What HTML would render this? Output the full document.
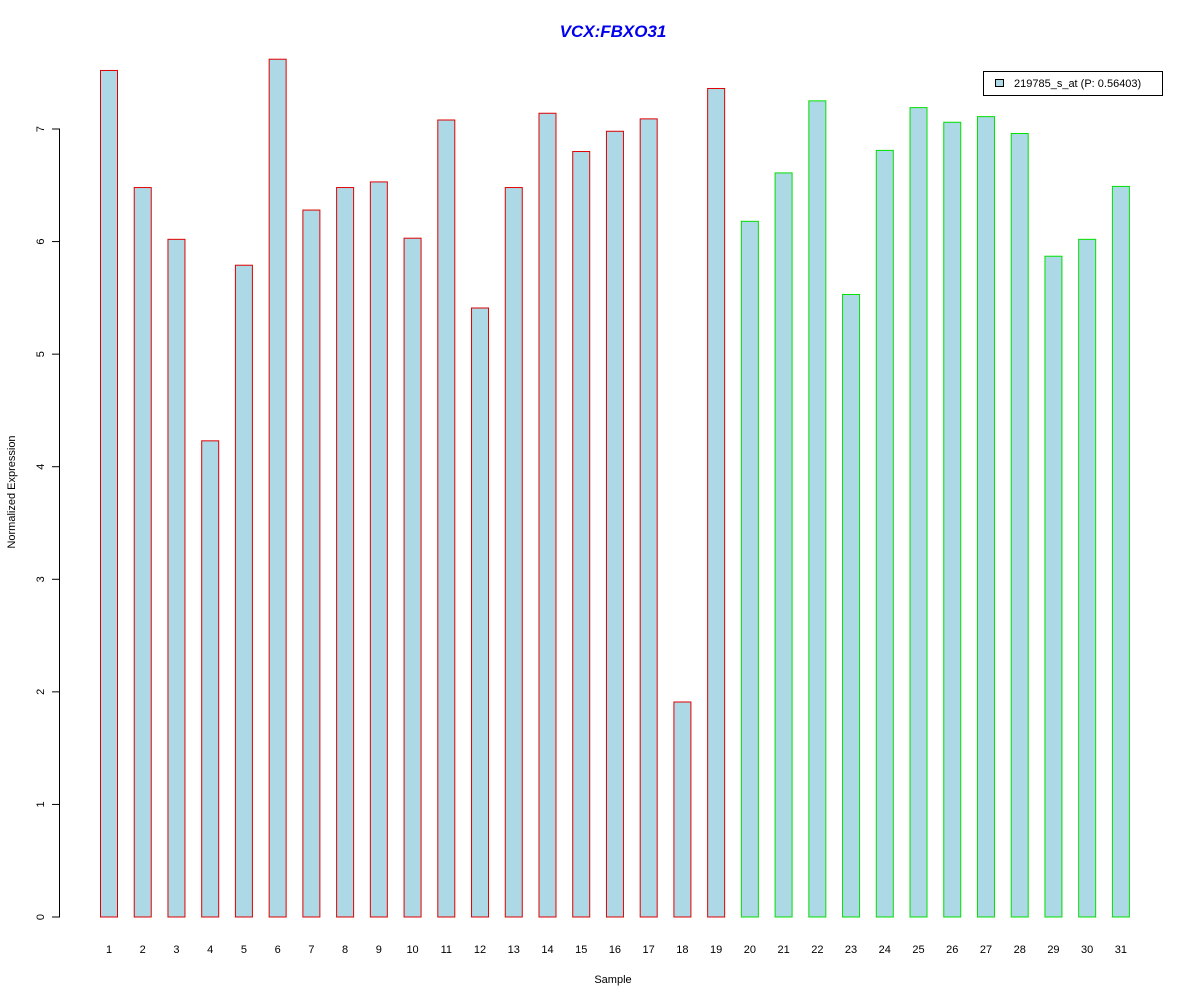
<!DOCTYPE html>
<html><head><meta charset="utf-8"><style>body{margin:0;background:#fff}svg{display:block}text{font-family:"Liberation Sans",Arial,sans-serif}</style></head>
<body>
<svg id="s" width="1200" height="1000" xmlns="http://www.w3.org/2000/svg">
<rect width="1200" height="1000" fill="#fff"/>
<text x="613" y="37" font-size="17" font-weight="bold" font-style="italic" fill="#0000ee" text-anchor="middle">VCX:FBXO31</text>
<g id="bars"></g>
<line x1="59.5" y1="129" x2="59.5" y2="917" stroke="#000"/>
<g id="yt" font-size="11" fill="#000"></g>
<g id="xt" font-size="11" fill="#000" text-anchor="middle"></g>
<text x="613" y="983" font-size="11" text-anchor="middle">Sample</text>
<text transform="translate(15,492) rotate(-90)" font-size="11" text-anchor="middle">Normalized Expression</text>
<rect x="983.5" y="71.5" width="179" height="24" fill="#fff" stroke="#000"/>
<rect x="995.5" y="79.5" width="8" height="7" fill="#add8e6" stroke="#000"/>
<text x="1014" y="87" font-size="11">219785_s_at (P: 0.56403)</text>
</svg>
<script>
var v=[7.52,6.48,6.02,4.23,5.79,7.62,6.28,6.48,6.53,6.03,7.08,5.41,6.48,7.14,6.80,6.98,7.09,1.91,7.36,6.18,6.61,7.25,5.53,6.81,7.19,7.06,7.11,6.96,5.87,6.02,6.49];
var ns="http://www.w3.org/2000/svg",s=112.57,b=document.getElementById('bars'),xt=document.getElementById('xt'),yt=document.getElementById('yt');
v.forEach(function(d,i){var x=100.5+i*33.73,h=d*s,r=document.createElementNS(ns,'rect');
r.setAttribute('x',x);r.setAttribute('y',917-h);r.setAttribute('width',17);r.setAttribute('height',h);
r.setAttribute('fill','#add8e6');r.setAttribute('stroke',i<19?'#e00000':'#00e000');b.appendChild(r);
var t=document.createElementNS(ns,'text');t.setAttribute('x',x+8.5);t.setAttribute('y',953);t.textContent=i+1;xt.appendChild(t);});
for(var k=0;k<=7;k++){var y=917-k*s;var l=document.createElementNS(ns,'line');l.setAttribute('x1',52);l.setAttribute('x2',60);l.setAttribute('y1',y);l.setAttribute('y2',y);l.setAttribute('stroke','#000');yt.appendChild(l);
var t=document.createElementNS(ns,'text');t.setAttribute('transform','translate(44,'+y+') rotate(-90)');t.setAttribute('text-anchor','middle');t.textContent=k;yt.appendChild(t);}
</script>
</body></html>
